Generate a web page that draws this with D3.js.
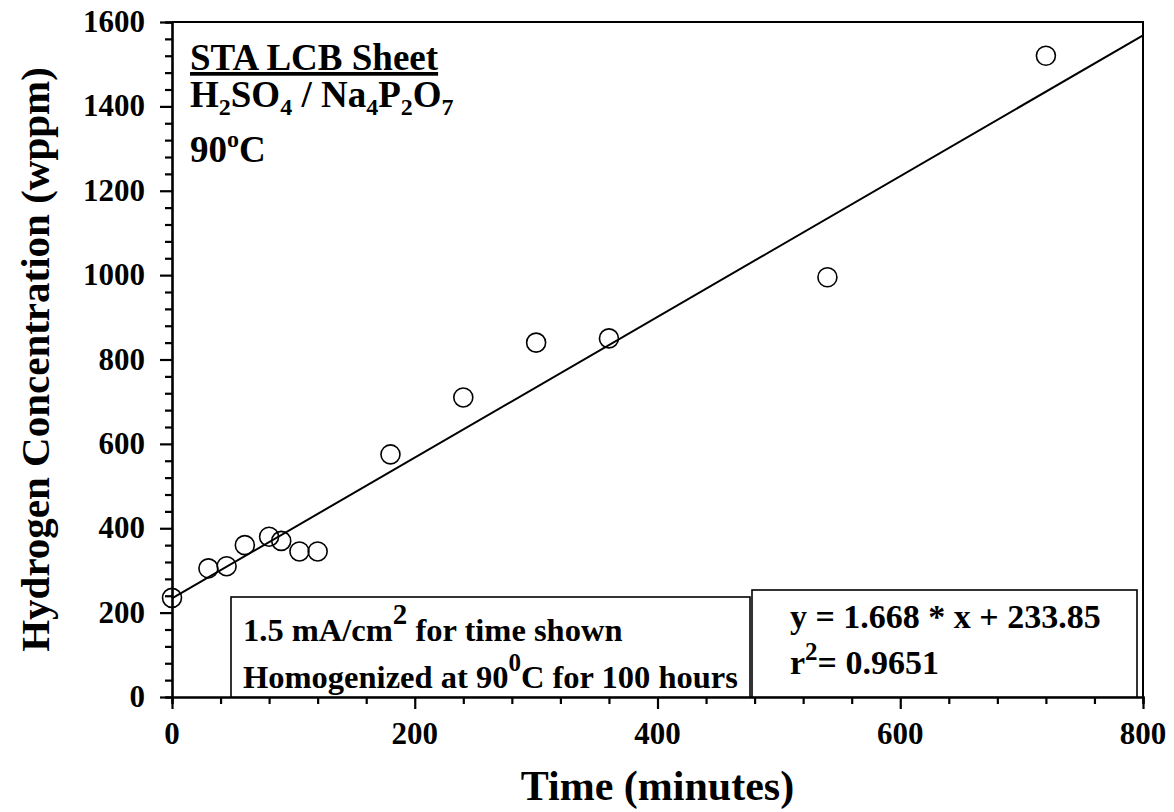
<!DOCTYPE html>
<html>
<head>
<meta charset="utf-8">
<script src="https://cdn.jsdelivr.net/npm/d3@7"></script>
<style>
  body { margin: 0; background: #fff; }
  text { font-family: "Liberation Serif", "Times New Roman", serif; font-weight: bold; fill: #000; }
</style>
</head>
<body>
<script>
'use strict'

// measured samples: time (minutes) vs hydrogen (wppm)
const timeMin = [0, 30, 45, 60, 80, 90, 105, 120, 180, 240, 300, 360, 540, 720]
const hConc = [235, 305, 310, 360, 380, 370, 345, 345, 575, 710, 840, 850, 995, 1520]

// linear fit as printed on the chart
const fitSlope = 1.668
const fitIntercept = 233.85
const fitR2 = 0.9651

const xTicks = [0, 200, 400, 600, 800]
const yTicks = [0, 200, 400, 600, 800, 1000, 1200, 1400, 1600]

const W = 1174, H = 812
const plot = { left: 172, right: 1143, top: 22, bottom: 697 }

const svg = d3.select('body').append('svg')
    .attr('width', W)
    .attr('height', H)

const x = d3.scaleLinear().domain([0, 800]).range([plot.left, plot.right])
const y = d3.scaleLinear().domain([0, 1600]).range([plot.bottom, plot.top])

// frame: top and right edges
svg.append('path')
    .attr('d', `M${plot.left},${plot.top}H${plot.right}V${plot.bottom}`)
    .attr('fill', 'none')
    .attr('stroke', '#000')
    .attr('stroke-width', 2)

// minor ticks every 40 units, major every 200
const xAxis = svg.append('g').attr('transform', `translate(0,${plot.bottom})`)
xAxis.call(d3.axisBottom(x).tickValues(d3.range(0, 801, 40)).tickSize(7).tickFormat(''))
xAxis.call(g => g.selectAll('.tick line').filter(d => d % 200 === 0).attr('y2', 12))
xAxis.selectAll('path, line').attr('stroke', '#000').attr('stroke-width', 2.2)
xAxis.select('.domain').attr('stroke-width', 2.6)

const yAxis = svg.append('g').attr('transform', `translate(${plot.left},0)`)
yAxis.call(d3.axisLeft(y).tickValues(d3.range(0, 1601, 40)).tickSize(7).tickFormat(''))
yAxis.call(g => g.selectAll('.tick line').filter(d => d % 200 === 0).attr('x2', -12))
yAxis.selectAll('path, line').attr('stroke', '#000').attr('stroke-width', 2.2)
yAxis.select('.domain').attr('stroke-width', 2.6)

// tick labels
svg.append('g').selectAll('text')
    .data(xTicks)
    .join('text')
    .attr('x', d => x(d))
    .attr('y', 744)
    .attr('text-anchor', 'middle')
    .attr('font-size', 31)
    .text(d => d)

svg.append('g').selectAll('text')
    .data(yTicks)
    .join('text')
    .attr('x', 145)
    .attr('y', d => y(d) + 10)
    .attr('text-anchor', 'end')
    .attr('font-size', 31)
    .text(d => d)

// axis titles
svg.append('text')
    .attr('x', (plot.left + plot.right) / 2)
    .attr('y', 800)
    .attr('text-anchor', 'middle')
    .attr('font-size', 42)
    .text('Time (minutes)')

svg.append('text')
    .attr('transform', `translate(49,${(plot.top + plot.bottom) / 2}) rotate(-90)`)
    .attr('text-anchor', 'middle')
    .attr('font-size', 41)
    .text('Hydrogen Concentration (wppm)')

// regression line
svg.append('line')
    .attr('x1', x(0)).attr('y1', y(fitIntercept))
    .attr('x2', x(800)).attr('y2', y(fitSlope * 800 + fitIntercept))
    .attr('stroke', '#000')
    .attr('stroke-width', 2)

// data points
svg.append('g').selectAll('circle')
    .data(timeMin.map((t, i) => [t, hConc[i]]))
    .join('circle')
    .attr('cx', d => x(d[0]))
    .attr('cy', d => y(d[1]))
    .attr('r', 9.5)
    .attr('fill', 'none')
    .attr('stroke', '#000')
    .attr('stroke-width', 1.6)

// sample description, top left
const note = svg.append('g').attr('font-size', 37)
note.append('text').attr('x', 190).attr('y', 70)
    .attr('text-decoration', 'underline')
    .text('STA LCB Sheet')

const chem = note.append('text').attr('x', 190).attr('y', 107)
chem.append('tspan').text('H')
chem.append('tspan').attr('font-size', 24).attr('dy', 8).text('2')
chem.append('tspan').attr('dy', -8).text('SO')
chem.append('tspan').attr('font-size', 24).attr('dy', 8).text('4')
chem.append('tspan').attr('dy', -8).text(' / Na')
chem.append('tspan').attr('font-size', 24).attr('dy', 8).text('4')
chem.append('tspan').attr('dy', -8).text('P')
chem.append('tspan').attr('font-size', 24).attr('dy', 8).text('2')
chem.append('tspan').attr('dy', -8).text('O')
chem.append('tspan').attr('font-size', 24).attr('dy', 8).text('7')

const temp = note.append('text').attr('x', 190).attr('y', 162)
temp.append('tspan').text('90')
temp.append('tspan').attr('font-size', 24).attr('dy', -15).text('o')
temp.append('tspan').attr('dy', 15).text('C')

// condition and fit boxes along the x axis
svg.append('rect')
    .attr('x', 231).attr('y', 597)
    .attr('width', 750 - 231).attr('height', plot.bottom - 597)
    .attr('fill', '#fff').attr('stroke', '#000').attr('stroke-width', 1.6)

svg.append('rect')
    .attr('x', 752).attr('y', 590)
    .attr('width', 1137 - 752).attr('height', plot.bottom - 590)
    .attr('fill', '#fff').attr('stroke', '#000').attr('stroke-width', 1.6)

const cond = svg.append('g').attr('font-size', 32.5)
const c1 = cond.append('text').attr('x', 243).attr('y', 641)
c1.append('tspan').text('1.5 mA/cm')
c1.append('tspan').attr('font-size', 29).attr('dy', -17).text('2')
c1.append('tspan').attr('dy', 17).text(' for time shown')

const c2 = cond.append('text').attr('x', 243).attr('y', 688)
c2.append('tspan').text('Homogenized at 90')
c2.append('tspan').attr('font-size', 25).attr('dy', -17).text('0')
c2.append('tspan').attr('dy', 17).text('C for 100 hours')

const fit = svg.append('g').attr('font-size', 34)
fit.append('text').attr('x', 790).attr('y', 628)
    .text(`y = ${fitSlope} * x + ${fitIntercept}`)
const f2 = fit.append('text').attr('x', 790).attr('y', 674)
f2.append('tspan').text('r')
f2.append('tspan').attr('font-size', 25).attr('dy', -14).text('2')
f2.append('tspan').attr('dy', 14).text(`= ${fitR2}`)
</script>
</body>
</html>
